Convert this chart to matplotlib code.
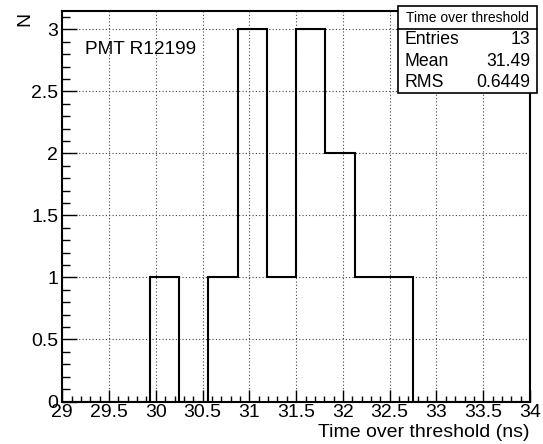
import numpy as np
import matplotlib
matplotlib.use('Agg')
from matplotlib import pyplot as plt
from matplotlib.patches import Rectangle
from matplotlib.lines import Line2D
from matplotlib.ticker import MultipleLocator

plt.rcParams['font.family'] = ['Liberation Sans', 'DejaVu Sans']

# histogram: 16 bins from 29 to 34 ns
X_MIN = 29
X_MAX = 34
N_BINS = 16
counts = [0, 0, 0, 1, 0, 1, 3, 1, 3, 2, 1, 1, 0, 0, 0, 0]
x_ticks = [29, 29.5, 30, 30.5, 31, 31.5, 32, 32.5, 33, 33.5, 34]
y_ticks = [0, 0.5, 1, 1.5, 2, 2.5, 3]

stats_title = 'Time over threshold'
stats_names = ['Entries', 'Mean', 'RMS']
stats_values = ['13', '31.49', '0.6449']
label_text = 'PMT R12199'

W, H = 543, 444

def px(x, y):
    # pixel position (from top left) -> figure fraction
    return x / W, 1 - y / H

fig = plt.figure(figsize=(W / 100, H / 100), dpi=100)
left, top = px(62.3, 10.7)
right, bottom = px(530, 401.5)
ax = fig.add_axes([left, bottom, right - left, top - bottom])

edges = np.linspace(X_MIN, X_MAX, N_BINS + 1)
ax.stairs(counts, edges, baseline=0, fill=False, color='black', linewidth=1.5, zorder=3)

ax.set_xlim(X_MIN, X_MAX)
ax.set_ylim(0, max(counts) * 1.05)
ax.set_xticks(x_ticks)
ax.set_xticklabels(['%g' % t for t in x_ticks])
ax.set_yticks(y_ticks)
ax.set_yticklabels(['%g' % t for t in y_ticks])
ax.xaxis.set_minor_locator(MultipleLocator(0.1))
ax.yaxis.set_minor_locator(MultipleLocator(0.1))

ax.tick_params(axis='both', which='both', direction='in', top=False, right=False,
               labelsize=14, width=1.0, color='black')
ax.tick_params(axis='x', which='major', length=8.4, pad=2)
ax.tick_params(axis='x', which='minor', length=4.2)
ax.tick_params(axis='y', which='major', length=10.8, pad=2.9)
ax.tick_params(axis='y', which='minor', length=5.4)

for s in ax.spines.values():
    s.set_linewidth(1.5)

ax.grid(True, which='major', color='#444444', linestyle=(0, (1, 2)), linewidth=0.8)
ax.set_axisbelow(True)

# axis titles
x, y = px(530, 432)
fig.text(x, y, 'Time over threshold (ns)', ha='right', va='center', fontsize=14)
x, y = px(24.5, 18.5)
fig.text(x, y, 'N', ha='center', va='center', rotation=90, fontsize=14)

x, y = px(85, 50)
fig.text(x, y, label_text, ha='left', va='center', fontsize=13.7)

# stats box
bx0, by0 = px(397.5, 93)
bx1, by1 = px(537, 6)
fig.patches.append(Rectangle((bx0, by0), bx1 - bx0, by1 - by0, transform=fig.transFigure,
                             facecolor='white', edgecolor='black', linewidth=1.2, zorder=5))
dx0, dy = px(397.5, 29.3)
dx1, _ = px(537, 29.3)
fig.lines.append(Line2D([dx0, dx1], [dy, dy], transform=fig.transFigure, color='black',
                        linewidth=1.2, zorder=6))
x, y = px(467, 18)
fig.text(x, y, stats_title, ha='center', va='center', fontsize=10, zorder=7)
for i, (name, val) in enumerate(zip(stats_names, stats_values)):
    row_y = 40 + i * 21.3
    x, y = px(405, row_y)
    fig.text(x, y, name, ha='left', va='center', fontsize=12.7, zorder=7)
    x, y = px(530, row_y)
    fig.text(x, y, val, ha='right', va='center', fontsize=12.7, zorder=7)

fig.savefig('out.png', dpi=100)
